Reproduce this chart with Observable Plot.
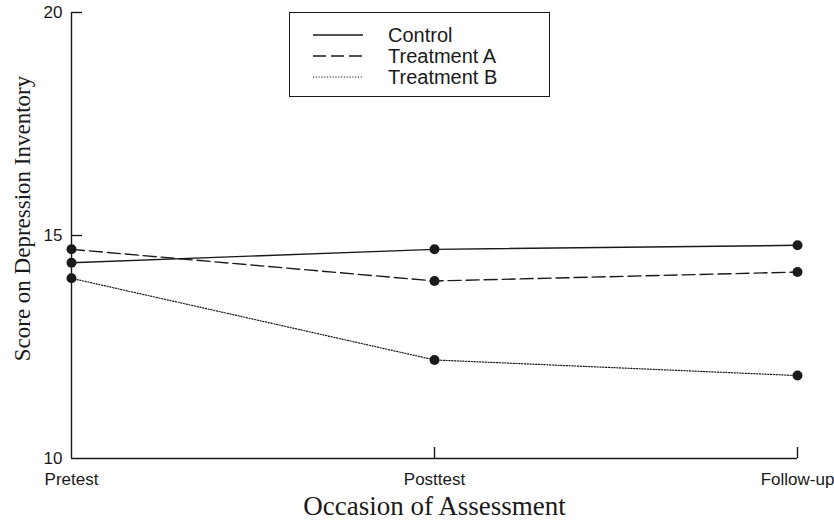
<!DOCTYPE html>
<html>
<head>
<meta charset="utf-8">
<script src="https://cdn.jsdelivr.net/npm/d3@7"></script>
<script src="https://cdn.jsdelivr.net/npm/@observablehq/plot@0.6"></script>
<style>
  body { margin: 0; background: #fff; }
  #wrap { position: relative; width: 834px; height: 520px; }
  #legend {
    position: absolute; left: 289px; top: 12px; width: 261px; height: 85px;
    border: 1.3px solid #1a1a1a; box-sizing: border-box; background: #fff;
    font-family: "Liberation Sans", Arial, sans-serif; font-size: 20px; color: #1a1a1a;
  }
  .row { position: absolute; left: 0; height: 20px; display: flex; align-items: center; }
  .row svg { margin-left: 23px; }
  .row span { margin-left: 25px; line-height: 20px; }
</style>
</head>
<body>
<div id="wrap"></div>
<script>
const occasions = ["Pretest", "Posttest", "Follow-up"];
const seriesNames = ["Control", "Treatment A", "Treatment B"];
const control = [14.39, 14.69, 14.78];
const treatmentA = [14.69, 13.98, 14.18];
const treatmentB = [14.04, 12.21, 11.86];
const yDomain = [10, 20];
const yTicks = [10, 15, 20];
const xTitle = "Occasion of Assessment";
const yTitle = "Score on Depression Inventory";

const dashes = ["none", "13,5", "1.2,1.6"];
const seriesValues = [control, treatmentA, treatmentB];
const rows = seriesNames.flatMap((name, s) =>
  occasions.map((occ, i) => ({series: name, occasion: occ, value: seriesValues[s][i]})));

const ink = "#1a1a1a";
const sans = "'Liberation Sans', Arial, Helvetica, sans-serif";
const serif = "'Liberation Serif', 'Times New Roman', serif";

const chart = Plot.plot({
  width: 834,
  height: 520,
  marginLeft: 71,
  marginRight: 37,
  marginTop: 12,
  marginBottom: 62,
  style: {background: "#fff", color: ink, fontFamily: sans},
  x: {type: "point", domain: occasions, padding: 0, axis: null},
  y: {domain: yDomain, axis: null},
  marks: [
    Plot.ruleX([occasions[0]], {stroke: ink, strokeWidth: 1.4}),
    Plot.ruleY([yDomain[0]], {stroke: ink, strokeWidth: 1.4}),
    Plot.ruleY(yTicks.slice(1), {x1: () => occasions[0], x2: () => occasions[0], insetRight: -11, stroke: ink, strokeWidth: 1.4}),
    Plot.ruleX(occasions.slice(1), {y1: () => yDomain[0], y2: () => yDomain[0], insetTop: -11, stroke: ink, strokeWidth: 1.4}),
    Plot.axisY({ticks: yTicks, tickSize: 0, tickPadding: 9, fontSize: 17, fontFamily: sans, label: null}),
    Plot.axisX({tickSize: 0, tickPadding: 14, fontSize: 17, fontFamily: sans, label: null}),
    ...seriesNames.map((name, s) =>
      Plot.line(rows.filter(d => d.series === name), {
        x: "occasion", y: "value", stroke: ink, strokeWidth: s === 2 ? 1.2 : 1.4,
        strokeDasharray: dashes[s]
      })),
    Plot.dot(rows, {x: "occasion", y: "value", r: 5, fill: ink, stroke: "none"}),
    Plot.text([xTitle], {frameAnchor: "bottom", dy: 56, lineAnchor: "bottom", fontSize: 27, fontFamily: serif, fill: ink}),
    Plot.text([yTitle], {frameAnchor: "left", rotate: -90, textAnchor: "middle", lineAnchor: "middle", dx: -49, dy: -17, fontSize: 23, fontFamily: serif, fill: ink})
  ]
});

const wrap = document.getElementById("wrap");
wrap.appendChild(chart);

const legend = document.createElement("div");
legend.id = "legend";
const rowCenters = [22, 43, 64];
seriesNames.forEach((name, s) => {
  const row = document.createElement("div");
  row.className = "row";
  row.style.top = (rowCenters[s] - 10) + "px";
  const dash = dashes[s] === "none" ? "" : `stroke-dasharray="${dashes[s]}"`;
  row.innerHTML = `<svg width="50" height="20"><line x1="0" x2="50" y1="10" y2="10" stroke="${ink}" stroke-width="${s === 2 ? 1.2 : 1.4}" ${dash}/></svg><span>${name}</span>`;
  legend.appendChild(row);
});
wrap.appendChild(legend);
</script>
</body>
</html>
